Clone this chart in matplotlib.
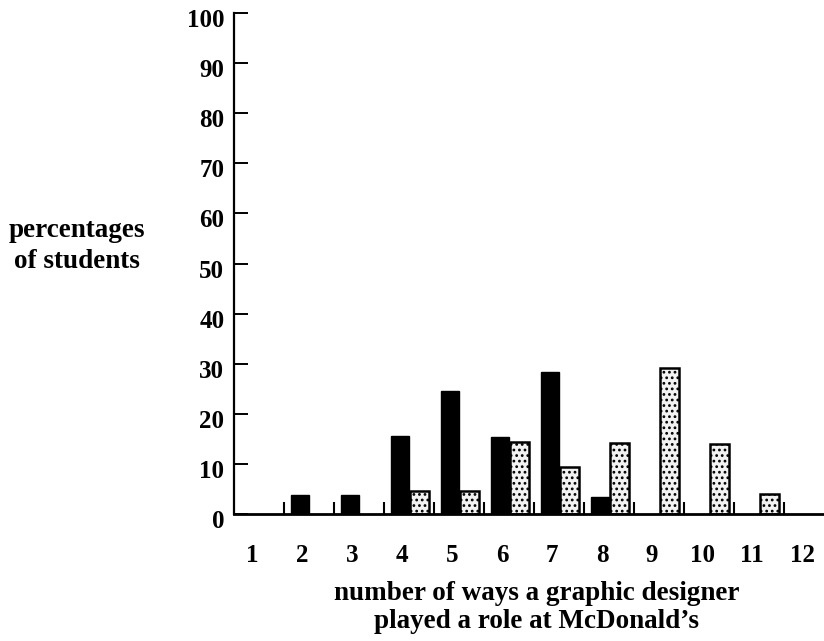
import matplotlib.pyplot as plt
import matplotlib.transforms as mtransforms
import numpy as np

# number of ways (1..12) and two groups of students, in percent
ways = [1, 2, 3, 4, 5, 6, 7, 8, 9, 10, 11, 12]
dark_pct = [0, 3.8, 3.7, 15.6, 24.6, 15.3, 28.3, 3.3, 0, 0, 0, 0]
light_pct = [0, 0, 0, 4.5, 4.5, 14.3, 9.3, 14.1, 29.1, 14.0, 4.0, 0]
yticks = [0, 10, 20, 30, 40, 50, 60, 70, 80, 90, 100]

plt.rcParams['font.family'] = ['Liberation Serif', 'DejaVu Serif']
plt.rcParams['font.weight'] = 'bold'
plt.rcParams['hatch.linewidth'] = 1.2

fig = plt.figure(figsize=(8.24, 6.41), dpi=100)
ax = fig.add_axes([234 / 824, 127 / 641, 590 / 824, 501 / 641])

x = np.array(ways) - 1
dark = np.array(dark_pct)
light = np.array(light_pct)

m = dark > 0
ax.bar(x[m] + 0.31, dark[m], width=0.36, color='black', edgecolor='black')
m = light > 0
ax.bar(x[m] + 0.71, light[m], width=0.37, facecolor='#f2f2f2',
       edgecolor='black', linewidth=1.8, hatch='...')

ax.set_xlim(0, 11.8)
ax.set_ylim(0, 100)
ax.spines['top'].set_visible(False)
ax.spines['right'].set_visible(False)
ax.spines['left'].set_linewidth(1.6)
ax.spines['bottom'].set_linewidth(2)

ax.set_yticks(yticks)
ax.tick_params(axis='y', direction='in', length=10, width=1.4, labelsize=18, pad=7)
shift = mtransforms.ScaledTranslation(0, -5 / 100, fig.dpi_scale_trans)
for lab in ax.get_yticklabels():
    lab.set_transform(lab.get_transform() + shift)

ax.set_xticks(x + 0.36)
ax.set_xticklabels([str(w) for w in ways])
ax.tick_params(axis='x', which='major', length=0, labelsize=18, pad=21.5)
ax.set_xticks(np.arange(1, 12), minor=True)
ax.tick_params(axis='x', which='minor', direction='in', length=9, width=1.5)

fig.text(77 / 824, 1 - 237 / 641, 'percentages', ha='center', va='baseline',
         fontsize=19.5, fontweight='bold')
fig.text(77 / 824, 1 - 268 / 641, 'of students', ha='center', va='baseline',
         fontsize=19.5, fontweight='bold')
fig.text(537 / 824, 1 - 600 / 641, 'number of ways a graphic designer',
         ha='center', va='baseline', fontsize=19.5, fontweight='bold')
fig.text(537 / 824, 1 - 628 / 641, 'played a role at McDonald\u2019s',
         ha='center', va='baseline', fontsize=19.5, fontweight='bold')

fig.savefig('out.png', dpi=100)
